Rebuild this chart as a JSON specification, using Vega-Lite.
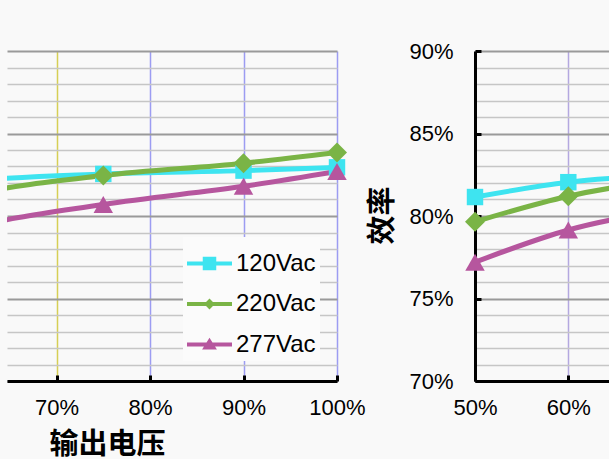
{
  "$schema": "https://vega.github.io/schema/vega-lite/v6.json",
  "background": "#f9f9f9",
  "padding": {"left": 7, "top": 40, "right": 0, "bottom": 1},
  "bounds": "flush",
  "spacing": 138,
  "config": {
    "view": {"stroke": null},
    "font": "Liberation Sans",
    "axis": {
      "labelFont": "Liberation Sans",
      "labelFontSize": 22,
      "labelColor": "#000000",
      "domainColor": "#000000",
      "domainWidth": 3,
      "tickColor": "#000000",
      "tickWidth": 3,
      "tickSize": -6,
      "labelOverlap": false,
      "labelFlush": false,
      "titleFont": "Noto Sans CJK SC",
      "titleFontSize": 29,
      "titleFontWeight": "bold",
      "titleColor": "#000000"
    },
    "legend": {
      "symbolStrokeWidth": 0,
      "symbolOpacity": 1
    }
  },
  "data": {
    "values": [
      {"series": "120Vac", "vout": 50, "eff": 81.15},
      {"series": "120Vac", "vout": 60, "eff": 82.05},
      {"series": "120Vac", "vout": 75, "eff": 82.55},
      {"series": "120Vac", "vout": 90, "eff": 82.75},
      {"series": "120Vac", "vout": 100, "eff": 82.95},
      {"series": "220Vac", "vout": 50, "eff": 79.65},
      {"series": "220Vac", "vout": 60, "eff": 81.2},
      {"series": "220Vac", "vout": 75, "eff": 82.45},
      {"series": "220Vac", "vout": 90, "eff": 83.2},
      {"series": "220Vac", "vout": 100, "eff": 83.85},
      {"series": "277Vac", "vout": 50, "eff": 77.2},
      {"series": "277Vac", "vout": 60, "eff": 79.15},
      {"series": "277Vac", "vout": 75, "eff": 80.7},
      {"series": "277Vac", "vout": 90, "eff": 81.8},
      {"series": "277Vac", "vout": 100, "eff": 82.7}
    ]
  },
  "resolve": {"scale": {"color": "independent", "shape": "independent"}},
  "hconcat": [
    {
      "width": 330,
      "height": 330,
      "encoding": {
        "x": {
          "field": "vout",
          "type": "quantitative",
          "scale": {"domain": [64.7, 100], "nice": false, "zero": false},
          "axis": {
            "values": [70, 80, 90, 100],
            "labelExpr": "datum.value + '%'",
            "labelPadding": 22,
            "grid": true,
            "gridColor": {"condition": {"test": "datum.value === 70", "value": "#d6cf55"}, "value": "#9c9cf2"},
            "gridWidth": 1.5,
            "title": "输出电压",
            "titleX": 100,
            "titleY": 63,
            "titleAlign": "center",
            "titleBaseline": "middle"
          }
        },
        "y": {
          "field": "eff",
          "type": "quantitative",
          "scale": {"domain": [70, 90], "nice": false, "zero": false},
          "axis": {
            "values": [70, 71, 72, 73, 74, 75, 76, 77, 78, 79, 80, 81, 82, 83, 84, 85, 86, 87, 88, 89, 90],
            "grid": true,
            "gridColor": {"condition": {"test": "datum.value % 5 === 0", "value": "#9a9a9a"}, "value": "#c6c6c6"},
            "gridWidth": {"condition": {"test": "datum.value % 5 === 0", "value": 2}, "value": 1.5},
            "labels": false,
            "ticks": false,
            "domain": false,
            "title": null
          }
        },
        "color": {
          "field": "series",
          "type": "nominal",
          "scale": {"domain": ["120Vac", "220Vac", "277Vac"], "range": ["#3ee4f0", "#7ab446", "#b6569e"]},
          "legend": {
            "orient": "none",
            "legendX": 176,
            "legendY": 186,
            "title": null,
            "fillColor": "#fbfbfb",
            "padding": 4,
            "labelFont": "Liberation Sans",
            "labelFontSize": 24,
            "labelColor": "#000000",
            "labelOffset": 4,
            "symbolSize": 2025,
            "rowPadding": 5.5
          }
        }
      },
      "layer": [
        {
          "mark": {"type": "line", "clip": true, "strokeWidth": 5, "interpolate": "monotone"}
        },
        {
          "transform": [{"filter": "datum.vout >= 64 && datum.series === '120Vac'"}],
          "mark": {"type": "point", "filled": true, "opacity": 1, "shape": "square", "size": 270}
        },
        {
          "transform": [{"filter": "datum.vout >= 64 && datum.series === '220Vac'"}],
          "mark": {"type": "point", "filled": true, "opacity": 1, "shape": "diamond", "size": 400}
        },
        {
          "transform": [{"filter": "datum.vout >= 64 && datum.series === '277Vac'"}],
          "mark": {"type": "point", "filled": true, "opacity": 1, "shape": "triangle-up", "size": 380}
        },
        {
          "transform": [{"filter": "datum.vout > 100"}],
          "mark": {"type": "point", "filled": true, "opacity": 1},
          "encoding": {
            "shape": {
              "field": "series",
              "type": "nominal",
              "scale": {
                "domain": ["120Vac", "220Vac", "277Vac"],
                "range": [
                  "M-1,-0.09H1V0.09H-1ZM-0.3,-0.3H0.3V0.3H-0.3Z",
                  "M-1,-0.09H1V0.09H-1ZM0,-0.24L0.24,0L0,0.24L-0.24,0Z",
                  "M-1,-0.09H1V0.09H-1ZM0,-0.3L0.33,0.22H-0.33Z"
                ]
              },
              "legend": {
                "orient": "none",
                "legendX": 176,
                "legendY": 186,
                "title": null,
                "fillColor": "#fbfbfb",
                "padding": 4,
                "labelFont": "Liberation Sans",
                "labelFontSize": 24,
                "labelColor": "#000000",
                "labelOffset": 4,
                "symbolSize": 2025,
                "rowPadding": 5.5
              }
            }
          }
        }
      ]
    },
    {
      "width": 134,
      "height": 330,
      "encoding": {
        "x": {
          "field": "vout",
          "type": "quantitative",
          "scale": {"domain": [50, 64.36], "nice": false, "zero": false},
          "axis": {
            "values": [50, 60],
            "labelExpr": "datum.value + '%'",
            "labelPadding": 22,
            "grid": true,
            "gridColor": "#b4a8e0",
            "gridWidth": 1.5,
            "title": null
          }
        },
        "y": {
          "field": "eff",
          "type": "quantitative",
          "scale": {"domain": [70, 90], "nice": false, "zero": false},
          "axis": {
            "values": [70, 71, 72, 73, 74, 75, 76, 77, 78, 79, 80, 81, 82, 83, 84, 85, 86, 87, 88, 89, 90],
            "labelExpr": "datum.value % 5 === 0 ? datum.value + '%' : ''",
            "labelPadding": 28,
            "tickOpacity": {"condition": {"test": "datum.value % 5 === 0", "value": 1}, "value": 0},
            "grid": true,
            "gridColor": {"condition": {"test": "datum.value % 5 === 0", "value": "#9a9a9a"}, "value": "#c6c6c6"},
            "gridWidth": {"condition": {"test": "datum.value % 5 === 0", "value": 2}, "value": 1.5},
            "title": "效率",
            "titleX": -93,
            "titleY": 164,
            "titleAlign": "center",
            "titleBaseline": "middle"
          }
        },
        "color": {
          "field": "series",
          "type": "nominal",
          "scale": {"domain": ["120Vac", "220Vac", "277Vac"], "range": ["#3ee4f0", "#7ab446", "#b6569e"]},
          "legend": null
        }
      },
      "layer": [
        {
          "mark": {"type": "line", "clip": true, "strokeWidth": 5, "interpolate": "monotone"}
        },
        {
          "transform": [{"filter": "datum.vout <= 65 && datum.series === '120Vac'"}],
          "mark": {"type": "point", "filled": true, "opacity": 1, "shape": "square", "size": 270}
        },
        {
          "transform": [{"filter": "datum.vout <= 65 && datum.series === '220Vac'"}],
          "mark": {"type": "point", "filled": true, "opacity": 1, "shape": "diamond", "size": 400}
        },
        {
          "transform": [{"filter": "datum.vout <= 65 && datum.series === '277Vac'"}],
          "mark": {"type": "point", "filled": true, "opacity": 1, "shape": "triangle-up", "size": 380}
        }
      ]
    }
  ]
}
